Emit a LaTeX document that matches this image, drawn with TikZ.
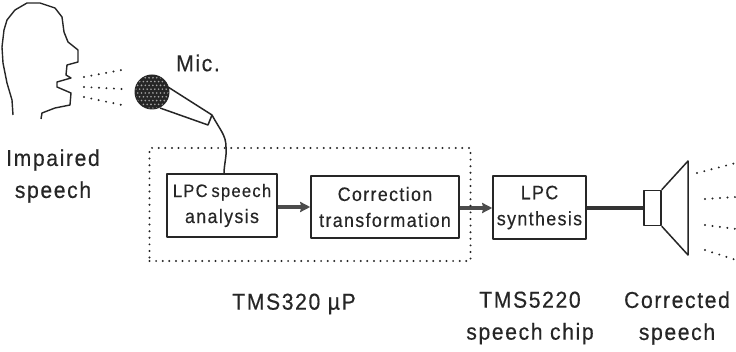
\documentclass[tikz,border=0pt]{standalone}
\usepackage{fontspec}
\setmainfont[FakeStretch=0.92,LetterSpace=7,FakeBold=0.4]{Liberation Sans}
\usetikzlibrary{arrows.meta}
\tikzset{
  x=1pt, y=-1pt,
  ink/.style={draw=black!85, line width=1.5pt, line join=round},
  blockbox/.style={ink, inner sep=0pt, align=center, text=black!85, font=\fontsize{19.4}{26}\selectfont},
  caption/.style={inner sep=0pt, align=center, text=black!85, font=\fontsize{23}{32}\selectfont},
  dots/.style={draw=black!85, line width=2.2pt, line cap=round, dash pattern=on 0pt off 7.5pt},
  flow/.style={draw=black!70, line width=3.2pt, -{Stealth[length=10pt,width=10pt,inset=1pt]}},
}
\begin{document}
\begin{tikzpicture}
\useasboundingbox (0,0) rectangle (736,352);

% speaker's head in profile
\draw[ink, line width=1.4pt] (13,115) -- (12,100) -- (7,83) -- (3,63) -- (2,47) -- (4,30) -- (7,20) -- (15,10) -- (27,3) -- (40,3) -- (55,8) -- (62,17) -- (64,32) -- (68,42) -- (78,50) -- (78,62) -- (67,65) -- (66,75) -- (71,78) -- (57,82) -- (57,87) -- (71,93) -- (70,105) -- (55,108) -- (42,113) -- (41,119);

% microphone
\coordinate (micA) at (168,87);
\coordinate (micB) at (160,108);
\coordinate (micC) at (212,115);
\coordinate (micD) at (208,125);
\draw[ink] (micA) -- (micC) -- (micD) -- (micB);
\fill[black!85] (152,92) circle (17.5);
\begin{scope}
  \clip (152,92) circle (16.5);
  \foreach \r in {0,...,9}{
    \foreach \c in {0,...,10}{
      \fill[black!35] ({132+\c*3.8+mod(\r,2)*1.9},{74+\r*3.8}) circle (0.9);
    }
  }
\end{scope}

% blocks
\node[blockbox, minimum width=110pt, minimum height=63pt] (analysis) at (222,205.5) {{\fontsize{18}{26}\selectfont LPC\hspace{-2pt} speech}\\analysis};
\node[blockbox, minimum width=148pt, minimum height=62pt] (correction) at (385,207) {Correction\\transformation};
\node[blockbox, minimum width=93pt, minimum height=63pt] (synthesis) at (539.5,207.5) {LPC\\synthesis};

% loudspeaker
\node[ink, draw, inner sep=0pt, minimum width=17pt, minimum height=35pt] (driver) at (652.5,208) {};
\draw[ink] (driver.north east) -- (688,161) -- (688,255) -- (driver.south east);

% microphone cable
\draw[ink] (micC) .. controls (220,130) and (226,135) .. (226,147) .. controls (227,155) and (224,165) .. (analysis.north -| 224,0);

% signal path
\draw[flow] (analysis.east |- 0,207) -- (correction.west |- 0,207);
\draw[flow] (correction.east |- 0,208) -- (synthesis.west |- 0,208);
\draw[draw=black!80, line width=3.6pt] (synthesis.east |- driver.west) -- (driver.west);

% processor boundary
\node[draw=black!85, line width=2.2pt, line cap=round, dash pattern=on 0pt off 6.6pt, inner sep=0pt, minimum width=321pt, minimum height=113pt] (dsp) at (310,204.5) {};

% sound leaving the mouth and the loudspeaker
\coordinate (m1a) at (84,77); \coordinate (m1b) at (122,70);
\coordinate (m2a) at (84,87); \coordinate (m2b) at (122,89);
\coordinate (m3a) at (84,97); \coordinate (m3b) at (122,105);
\draw[dots] (m1a) -- (m1b);
\draw[dots] (m2a) -- (m2b);
\draw[dots] (m3a) -- (m3b);
\coordinate (s1a) at (697,173); \coordinate (s1b) at (736,163);
\coordinate (s2a) at (705,199); \coordinate (s2b) at (736,197);
\coordinate (s3a) at (705,225); \coordinate (s3b) at (736,229);
\coordinate (s4a) at (705,250); \coordinate (s4b) at (736,260);
\draw[dots] (s1a) -- (s1b);
\draw[dots] (s2a) -- (s2b);
\draw[dots] (s3a) -- (s3b);
\draw[dots] (s4a) -- (s4b);

% labels
\node[caption] (micl) at (198,63) {Mic.};
\node[caption] (impaired) at (53,176) {Impaired\\speech};
\node[caption] (tms320) at (294,304) {TMS320 µP};
\node[caption] (tms5220) at (530,318) {TMS5220\\speech chip};
\node[caption] (corrected) at (677,318) {Corrected\\speech};
\end{tikzpicture}
\end{document}
